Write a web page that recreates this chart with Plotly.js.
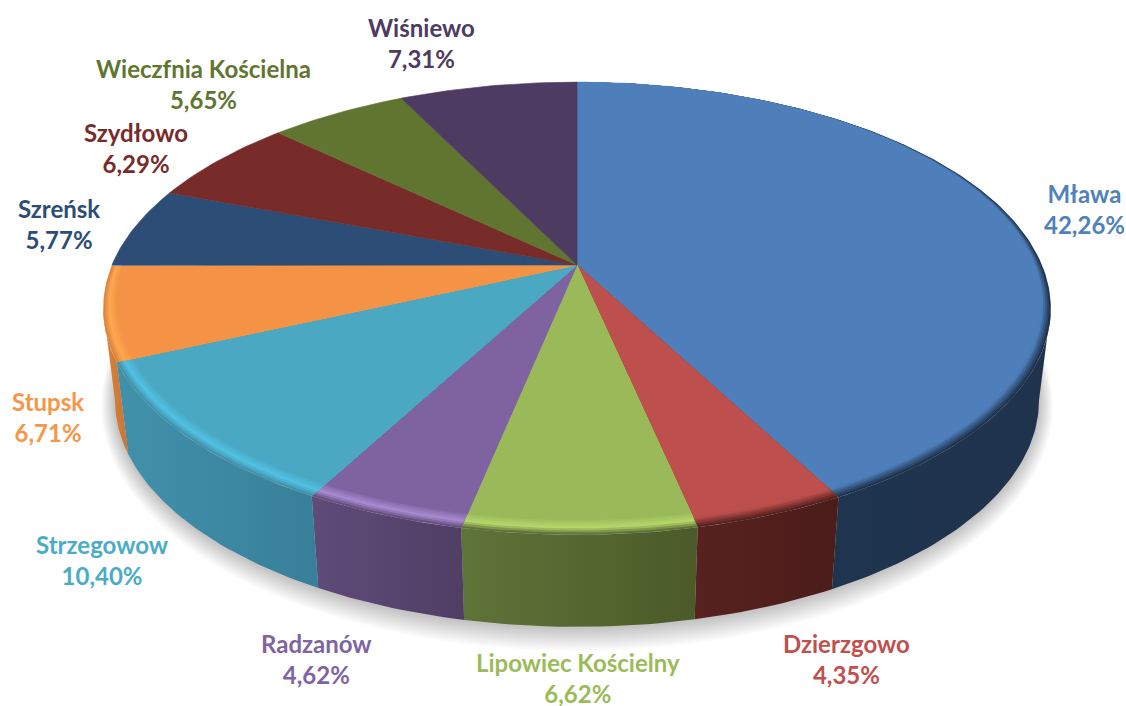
<!DOCTYPE html>
<html>
<head>
<meta charset="utf-8">
<script src="https://cdn.plot.ly/plotly-3.0.1.min.js"></script>
<style>html,body{margin:0;padding:0;background:#fff}#chart{width:1126px;height:706px}</style>
</head>
<body>
<div id="chart"></div>
<script>
// ---- data ----
const categories = ["Mława","Dzierzgowo","Lipowiec Kościelny","Radzanów","Strzegowow","Stupsk","Szreńsk","Szydłowo","Wieczfnia Kościelna","Wiśniewo"];
const shares = [42.26,4.35,6.62,4.62,10.40,6.71,5.77,6.29,5.65,7.31];

// ---- styles ----
const topColors  = ["#4f7fbb","#bd4f4c","#9aba5a","#7f63a0","#4aa8c3","#f49345","#2c4d75","#772c2a","#5f7530","#4d3b62"];
const textColors = ["#4f81bd","#c0504d","#9bbb59","#8064a2","#4bacc6","#f79646","#2c4d75","#772c2a","#5f7530","#4d3b62"];
const wallLeft   = ["#1f344e","#57221f","#5f7439","#5f4b78","#4191ab","#d8823c",null,null,null,null];
const wallRight  = ["#1f334d","#4a1c1a","#4b5a28","#503e65","#387f99","#c87636",null,null,null,null];
const rimEdge    = ["#1f344e","#57221f","#5f7439","#66517f","#4294ad","#dd8640",null,null,null,null];
const rimLight   = ["#4f7fbb","#bd4f4c","#b6d66c","#a98bd2","#52c1e4","#ffa850",null,null,null,null];

// ---- label placement (pixels) ----
const labelX = [1084,846,578,316,102,48,59,136,203,421];
const labelY = [209,659,678,659,560,417,224,148,84,43];

// ---- projection of the pie ----
const xc = 577, yc = 265, A = 465, B = 218, p = 0.192;
const wallDrop = 92, wallScale = 0.975, bevel = 0.045, levels = 7;
// angle at which the projected rim is widest: the wall's outline starts there
const silhouette = Math.acos(-p)*180/Math.PI;

function project(deg, r){
  const t = deg*Math.PI/180, X = r*Math.sin(t), Y = r*Math.cos(t), d = 1+p*Y;
  return [xc + A*X/d, yc - B*Y/d];
}
function projectBase(deg){
  const q = project(deg,1);
  return [xc + (q[0]-xc)*wallScale, q[1]+wallDrop];
}
function hex(c){return [1,3,5].map(i=>parseInt(c.substr(i,2),16));}
function mix(a,b,t){const x=hex(a),y=hex(b);return 'rgb('+x.map((v,i)=>Math.round(v+(y[i]-v)*t)).join(',')+')';}
function arc(a0,a1){const out=[];const n=Math.max(2,Math.ceil(Math.abs(a1-a0)));for(let i=0;i<=n;i++)out.push(a0+(a1-a0)*i/n);return out;}

function poly(pts,fill,extra){
  return Object.assign({type:'scatter',mode:'lines',x:pts.map(q=>q[0]),y:pts.map(q=>q[1]),
    fill:'toself',fillcolor:fill,line:{width:0},hoverinfo:'skip',showlegend:false},extra||{});
}

const total = shares.reduce((a,b)=>a+b,0);
let run = 0;
const spans = shares.map(v=>{const s=run/total*360; run+=v; return [s,run/total*360];});

const traces = [];

// soft shadow below the pie
const shadowSteps = 12;
for(let k=shadowSteps;k>=1;k--){
  const f=k/shadowSteps;
  const pts=arc(60,300).map(a=>{
    const q=projectBase(a), c=-Math.cos(a*Math.PI/180);
    return [xc+(q[0]-xc)*(1+0.03*f), q[1]+24*f*Math.max(0,c)];
  });
  traces.push(poly(pts,'rgba(0,0,0,0.02)'));
}

// side walls of the visible front part
spans.forEach((s,i)=>{
  if(!wallLeft[i]) return;
  const a0=Math.max(s[0],silhouette), a1=Math.min(s[1],360-silhouette);
  if(a1<=a0) return;
  const angles=arc(a0,a1);
  const pts=angles.map(a=>project(a,1)).concat(angles.slice().reverse().map(projectBase));
  traces.push(poly(pts,wallLeft[i],{fillgradient:{type:'horizontal',colorscale:[[0,wallLeft[i]],[1,wallRight[i]]]}}));
});

// top faces, with a bevel along the front rim
function sector(s,r){
  const pts=[[xc,yc]].concat(arc(s[0],s[1]).map(a=>project(a,r(a))));
  pts.push([xc,yc]);
  return pts;
}
spans.forEach((s,i)=>{
  if(!rimEdge[i]){
    traces.push(poly(sector(s,()=>1),topColors[i],{line:{width:0.6,color:topColors[i]}}));
    return;
  }
  const dark = rimLight[i]===topColors[i];
  for(let k=0;k<=levels;k++){
    const t=k/levels;
    const stop = dark?0.6:0.4;
    const col = t<stop ? mix(rimEdge[i],rimLight[i],t/stop) : mix(rimLight[i],topColors[i],(t-stop)/(1-stop));
    const r=a=>1-bevel*t*(1-Math.cos(a*Math.PI/180))/2;
    traces.push(poly(sector(s,r),col,{line:{width:k===levels?0.6:0,color:col}}));
  }
});

const annotations = categories.map((name,i)=>({
  x:labelX[i],y:labelY[i],xref:'x',yref:'y',showarrow:false,xanchor:'center',yanchor:'middle',align:'center',
  text:name+'<br>'+shares[i].toFixed(2).replace('.',',')+'%',
  font:{family:'Lato, "Open Sans", sans-serif',size:24,weight:700,color:textColors[i]}
}));

Plotly.newPlot('chart',traces,{
  width:1126,height:706,margin:{l:0,r:0,t:0,b:0},
  paper_bgcolor:'#ffffff',plot_bgcolor:'#ffffff',showlegend:false,hovermode:false,
  xaxis:{range:[0,1126],visible:false,fixedrange:true},
  yaxis:{range:[706,0],visible:false,fixedrange:true},
  annotations:annotations
},{displayModeBar:false,staticPlot:true});
</script>
</body>
</html>
